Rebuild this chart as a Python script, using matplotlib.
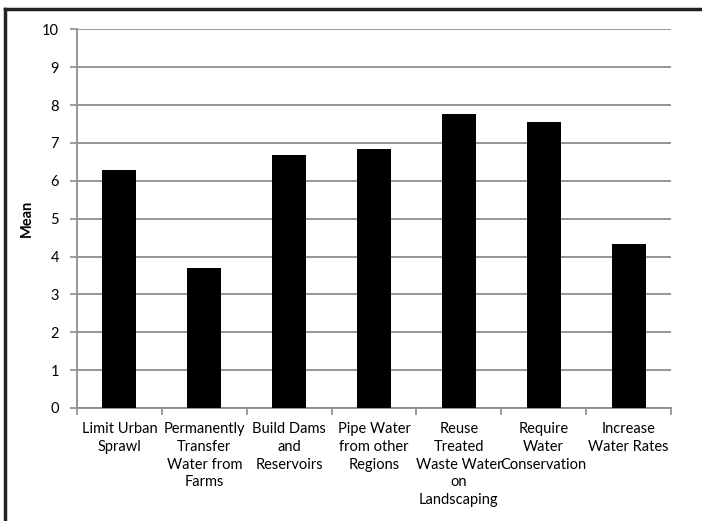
import matplotlib
matplotlib.use("Agg")
import matplotlib.pyplot as plt
from matplotlib.lines import Line2D

categories = ["Limit Urban\nSprawl", "Permanently\nTransfer\nWater from\nFarms",
              "Build Dams\nand\nReservoirs", "Pipe Water\nfrom other\nRegions",
              "Reuse\nTreated\nWaste Water\non\nLandscaping", "Require\nWater\nConservation",
              "Increase\nWater Rates"]
means = [6.28, 3.69, 6.68, 6.84, 7.76, 7.56, 4.33]
yticks = list(range(0, 11))

plt.rcParams['font.family'] = ['Lato', 'DejaVu Sans']

fig = plt.figure(figsize=(7.02, 5.21), dpi=100)
ax = fig.add_axes([0.1097, 0.2169, 0.9558 - 0.1097, 0.9438 - 0.2169])

x = list(range(len(categories)))
ax.bar(x, means, width=0.4, color='black', zorder=3)

ax.set_xlim(-0.5, len(categories) - 0.5)
ax.set_ylim(0, 10)
ax.set_yticks(yticks)
ax.set_yticklabels([str(v) for v in yticks], fontsize=10.5)
ax.grid(axis='y', color='#8c8c8c', linewidth=1.3, zorder=0)

ax.set_xticks([i - 0.5 for i in range(len(categories) + 1)])
ax.set_xticklabels([])
ax.set_xticks(x, minor=True)
ax.set_xticklabels(categories, minor=True, fontsize=10.5, linespacing=1.35)
ax.tick_params(axis='x', which='minor', length=0, pad=10)
ax.tick_params(axis='x', which='major', length=5, color='#8c8c8c', width=1.2)
ax.tick_params(axis='y', length=5, color='#8c8c8c', width=1.2, pad=8)

for s in ['top', 'right']:
    ax.spines[s].set_visible(False)
for s in ['left', 'bottom']:
    ax.spines[s].set_color('#8c8c8c')
    ax.spines[s].set_linewidth(1.3)

ax.set_ylabel("Mean", fontweight='bold', fontsize=10.5, labelpad=6)

# outer frame (only top and left visible in the crop)
fig.add_artist(Line2D([5 / 702, 1], [1 - 9 / 521, 1 - 9 / 521], transform=fig.transFigure,
                      color='#222222', linewidth=2.5))
fig.add_artist(Line2D([5 / 702, 5 / 702], [0, 1 - 9 / 521], transform=fig.transFigure,
                      color='#222222', linewidth=2.5))

fig.savefig("out.png", dpi=100)
